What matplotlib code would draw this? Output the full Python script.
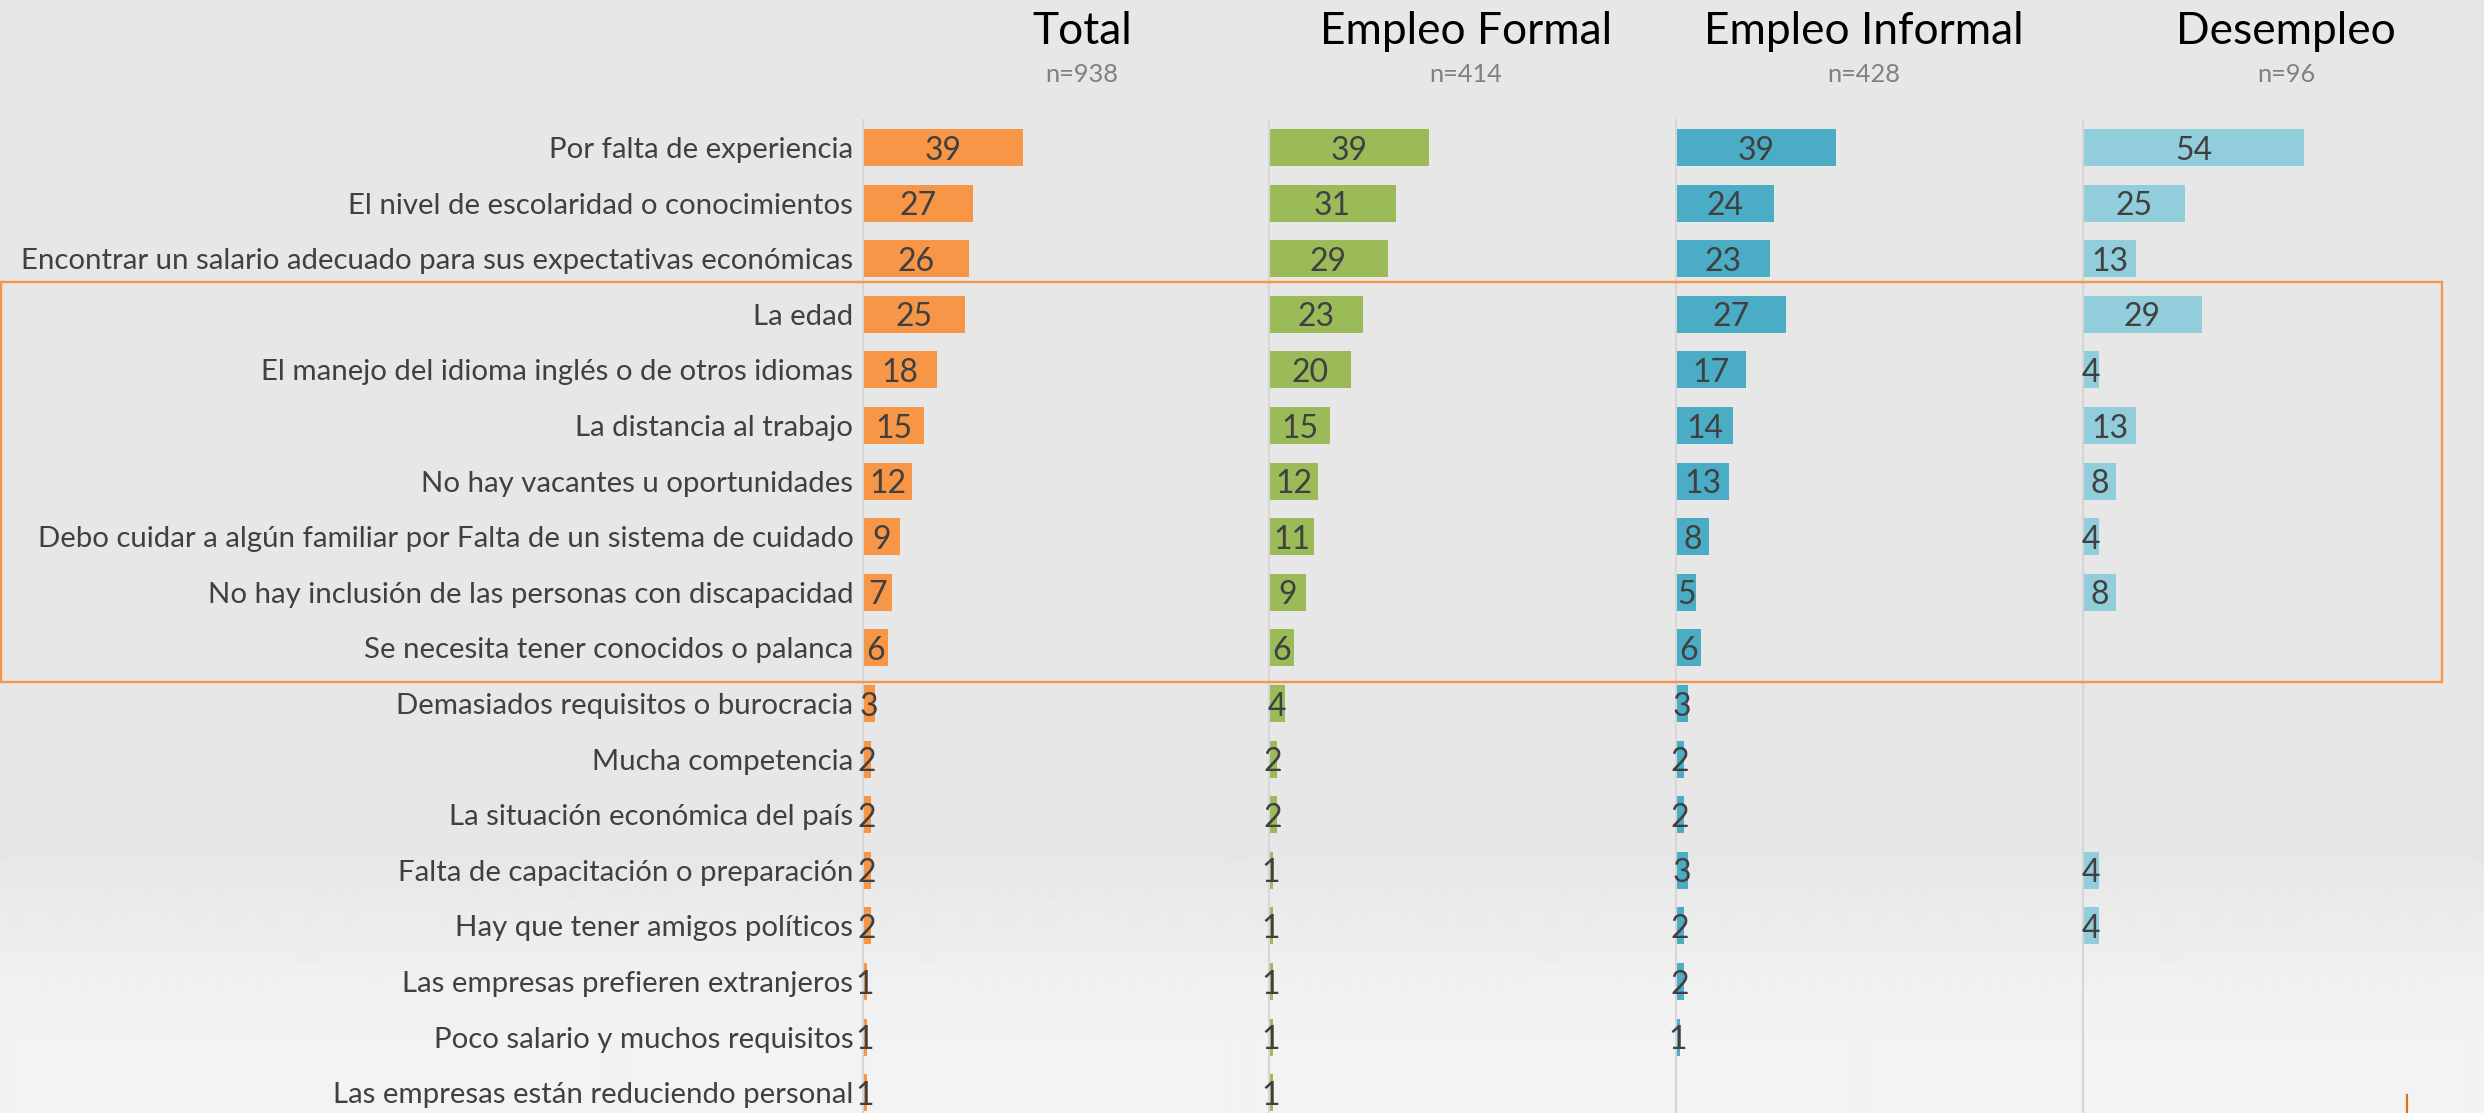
import numpy as np
import matplotlib
matplotlib.use("Agg")
import matplotlib.pyplot as plt
from matplotlib.patches import Rectangle
from matplotlib.lines import Line2D

# ---------------- data ----------------
categories = [
    "Por falta de experiencia",
    "El nivel de escolaridad o conocimientos",
    "Encontrar un salario adecuado para sus expectativas económicas",
    "La edad",
    "El manejo del idioma inglés o de otros idiomas",
    "La distancia al trabajo",
    "No hay vacantes u oportunidades",
    "Debo cuidar a algún familiar por Falta de un sistema de cuidado",
    "No hay inclusión de las personas con discapacidad",
    "Se necesita tener conocidos o palanca",
    "Demasiados requisitos o burocracia",
    "Mucha competencia",
    "La situación económica del país",
    "Falta de capacitación o preparación",
    "Hay que tener amigos políticos",
    "Las empresas prefieren extranjeros",
    "Poco salario y muchos requisitos",
    "Las empresas están reduciendo personal",
]
total     = [39, 27, 26, 25, 18, 15, 12, 9, 7, 6, 3, 2, 2, 2, 2, 1, 1, 1]
formal    = [39, 31, 29, 23, 20, 15, 12, 11, 9, 6, 4, 2, 2, 1, 1, 1, 1, 1]
informal  = [39, 24, 23, 27, 17, 14, 13, 8, 5, 6, 3, 2, 2, 3, 2, 2, 1, None]
desempleo = [54, 25, 13, 29, 4, 13, 8, 4, 8, None, None, None, None, 4, 4, None, None, None]

groups = ["Total", "Empleo Formal", "Empleo Informal", "Desempleo"]
sample_sizes = ["n=938", "n=414", "n=428", "n=96"]
series = [total, formal, informal, desempleo]
colors = ["#F79646", "#9BBB59", "#4BACC6", "#92CDDC"]

# ---------------- layout ----------------
W, H, DPI = 2484, 1113, 100
plt.rcParams['font.family'] = ['Lato', 'DejaVu Sans']
fig = plt.figure(figsize=(W / DPI, H / DPI), dpi=DPI)
renderer = fig.canvas.get_renderer()


def measure(s, size):
    t = fig.text(0, 0, s, fontsize=size)
    w = t.get_window_extent(renderer).width
    t.remove()
    return w


def fit(s, target_px, base=20.0):
    return base * target_px / measure(s, base)


label_fs = fit(categories[2], 835)
num_fs = fit("39", 37)
head_fs = fit("Empleo Formal", 292)
n_fs = fit("n=938", 73)

# background gradient
bg = fig.add_axes([0, 0, 1, 1], zorder=-10)
rows = np.arange(H)
shade = np.interp(rows, [0, 860, 1000, H], [0.906, 0.906, 0.948, 0.952])
bg.imshow(np.repeat(shade[:, None], 2, axis=1), cmap='gray', vmin=0, vmax=1,
          aspect='auto', extent=[0, 1, 0, 1], interpolation='bilinear')
bg.axis('off')

zeros_px = [863, 1269, 1676, 2083]
panel_w_px = 405
px_per_unit = 4.09
row0, pitch = 147.5, 55.6
n = len(categories)
top_px = row0 - pitch / 2
bot_px = row0 + (n - 0.5) * pitch

head_x_px = [1082, 1466, 1864, 2286]

for k, (vals, col) in enumerate(zip(series, colors)):
    ax = fig.add_axes([zeros_px[k] / W, (H - bot_px) / H,
                       panel_w_px / W, (bot_px - top_px) / H])
    ax.set_facecolor('none')
    ax.set_xlim(0, panel_w_px / px_per_unit)
    ax.set_ylim(n - 0.5, -0.5)
    ys = [i for i, v in enumerate(vals) if v is not None]
    vs = [vals[i] for i in ys]
    ax.barh(ys, vs, height=0.665, color=col, zorder=2)
    for y, v in zip(ys, vs):
        ax.text(v / 2, y, f"{v}", ha='center', va='center_baseline',
                fontsize=num_fs, color='#404040', zorder=3)
    for side in ['top', 'right', 'bottom']:
        ax.spines[side].set_visible(False)
    ax.spines['left'].set_color('#d6d6d6')
    ax.spines['left'].set_linewidth(1.5)
    ax.set_xticks([])
    if k == 0:
        ax.set_yticks(range(n))
        ax.set_yticklabels(categories, fontsize=label_fs, color='#404040')
        ax.tick_params(axis='y', length=0, pad=7)
    else:
        ax.set_yticks([])
    fig.text(head_x_px[k] / W, 1 - 31 / H, groups[k], ha='center', va='center',
             fontsize=head_fs, color='black')
    fig.text(head_x_px[k] / W, 1 - 74 / H, sample_sizes[k], ha='center',
             va='center', fontsize=n_fs, color='#808080')

# highlight box
fig.add_artist(Rectangle((1 / W, 1 - 682 / H), (2442 - 1) / W, (682 - 282) / H,
                         transform=fig.transFigure, fill=False,
                         edgecolor='#F79646', linewidth=1.7, zorder=5))
# small mark bottom right
fig.add_artist(Line2D([2407 / W, 2407 / W], [0, (1113 - 1095) / H],
                      transform=fig.transFigure, color='#E46C0A', linewidth=1.6))

fig.savefig("out.png", dpi=DPI)
